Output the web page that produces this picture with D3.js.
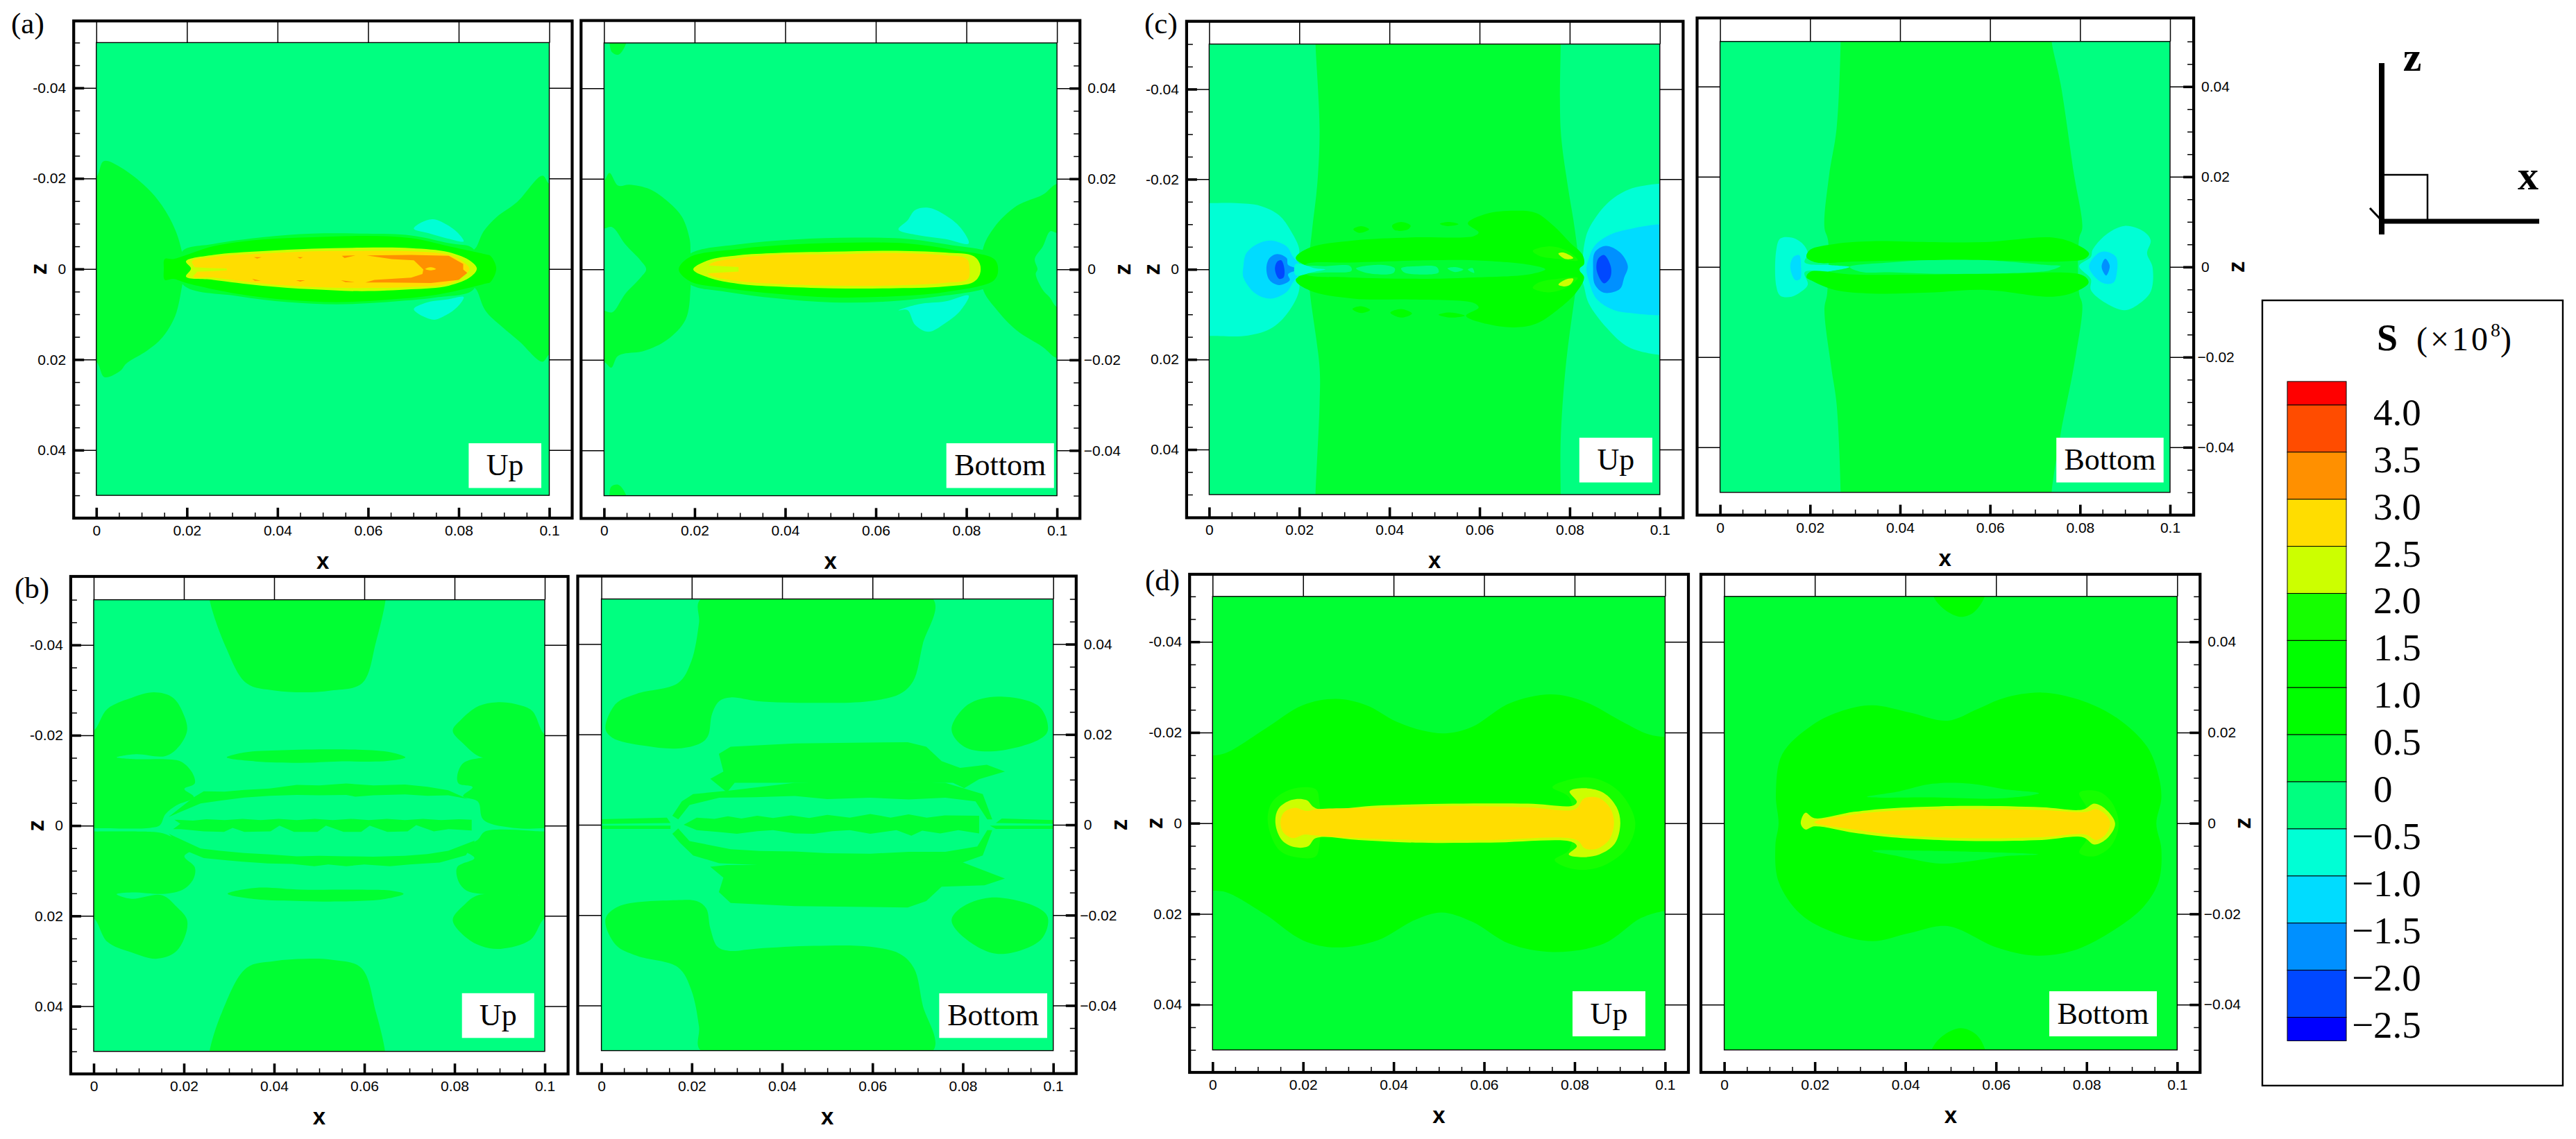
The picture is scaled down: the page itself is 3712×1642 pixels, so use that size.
<!DOCTYPE html>
<html>
<head>
<meta charset="utf-8">
<script src="https://cdn.jsdelivr.net/npm/d3@7/dist/d3.min.js"></script>
<style>
  body { margin: 0; background: #fff; }
  svg { display: block; }
  .tick text { font-family: "Liberation Sans", Arial, sans-serif; font-size: 21px; fill: #000; }
  .serif { font-family: "Liberation Serif", "Times New Roman", serif; fill: #000; }
  .axisname { font-family: "Liberation Sans", Arial, sans-serif; font-size: 33px; font-weight: bold; fill: #000; }
</style>
</head>
<body>
<div id="chart"></div>
<script>
// ---------------------------------------------------------
// 1. DATA
// ---------------------------------------------------------

// colour bands, S in units of 1e8
const sLevels = [-2.5, -2, -1.5, -1, -0.5, 0, 0.5, 1, 1.5, 2, 2.5, 3, 3.5, 4];
const bandColors = ["#0000ff", "#0048ff", "#0090ff", "#00dcff", "#00ffd5", "#00ff80", "#00ff33",
    "#00ff00", "#00ff00", "#15ff00", "#ccff00", "#ffdd00", "#ff9000", "#ff4c00", "#ff0000"];
const legendLabels = ["4.0", "3.5", "3.0", "2.5", "2.0", "1.5", "1.0", "0.5", "0", "\u22120.5", "\u22121.0", "\u22121.5", "\u22122.0", "\u22122.5"];
const legendValues = [4, 3.5, 3, 2.5, 2, 1.5, 1, 0.5, 0, -0.5, -1, -1.5, -2, -2.5];
const legendEnds = [4.25, -2.75];

// axes, in metres
const xMajor = [0, 0.02, 0.04, 0.06, 0.08, 0.1];
const xMinor = [0.005, 0.01, 0.015, 0.025, 0.03, 0.035, 0.045, 0.05, 0.055, 0.065, 0.07, 0.075, 0.085, 0.09, 0.095];
const xLabels = ["0", "0.02", "0.04", "0.06", "0.08", "0.1"];
const zMajor = [-0.04, -0.02, 0, 0.02, 0.04];
const zMinor = [-0.05, -0.045, -0.035, -0.03, -0.025, -0.015, -0.01, -0.005, 0.005, 0.01, 0.015, 0.025, 0.03, 0.035, 0.045, 0.05];
const zLabelsUp = ["-0.04", "-0.02", "0", "0.02", "0.04"];
const zLabelsBottom = ["\u22120.04", "\u22120.02", "0", "0.02", "0.04"];

// contour regions: [S inside, [[x mm, z mm], ...], sharp corners?]  painted in order
const regionsAUp = [
  [0.25, [[0,-20.4],[1.6,-23.8],[5.3,-22.5],[11.1,-18],[14.5,-14],[17.4,-8.7],[18.9,-3.8],[19.5,0],[18.9,3.9],[17.4,10.4],[14.5,15.2],[11.1,18.1],[6.6,20.9],[5.3,22.5],[1.8,23.9],[0,20.5],[-3,20],[-3,-20]]],
  [0.25, [[103,-18],[100,-18.8],[98.5,-20.6],[92.9,-14.8],[88.4,-11.5],[85.5,-8.3],[84,-5],[83,-3.5],[83,3.5],[84,4.7],[85.9,9.2],[89.6,12.8],[93.4,16],[98.5,20.5],[100,18.9],[103,18]]],
  [-0.75, [[70.1,-8.9],[71.8,-10.3],[74.3,-11],[77.2,-9.9],[79.7,-8.1],[81.1,-6.1],[77.6,-6.7],[73.4,-7.9]]],
  [-0.75, [[70.1,8.9],[72.6,7.5],[77.6,6.7],[81.1,6.2],[79.7,8.4],[77.2,10.2],[74.3,11.2]]],
  [0.25, [[18.9,-3.8],[25.8,-5.5],[36.7,-7],[47.7,-7.8],[59.7,-7.8],[69.5,-7.4],[77.8,-5.7],[83.2,-4.5],[84,0],[83.2,4.6],[75,6.3],[64.1,7.3],[53.1,7.8],[42.2,7.3],[31.3,6],[19.1,3.4]]],
  [0.75, [[15.1,-2.2],[17,-2.2],[25.8,-5],[36.7,-6.5],[47.7,-7],[59.7,-7.3],[69.5,-6.8],[77.8,-5],[86,-3.2],[87,-2.9],[88.3,-0.1],[87,2.9],[86,3.2],[75,5.7],[64,6.8],[53,7.3],[42.2,6.8],[31.3,5.5],[20.3,3.2],[17,2.2],[15.1,2.4],[14.9,0]]],
  [2.25, [[19.8,-1.7],[25.8,-3.1],[36.7,-3.95],[47.7,-4.5],[58.6,-4.7],[69.5,-4.6],[77.8,-3.7],[82.7,-1.7],[84,-0.1],[82.7,1.7],[77.8,3.7],[69.5,4.5],[58.6,4.9],[47.7,4.5],[36.7,3.7],[25.8,2.4],[19.8,1.7],[20.9,-0.1]]],
  [2.75, [[21.1,-1.7],[25.8,-2.7],[36.7,-3.4],[47.7,-3.9],[58.6,-4],[69.5,-3.9],[77.8,-3.1],[81.6,-1.1],[82.4,0],[81.6,1.1],[77.8,3.2],[69.5,4],[58.6,4.2],[47.7,4],[36.7,3.2],[25.8,1.9],[21.4,1.7],[22.2,0.6],[21.7,-0.4]]],
  [2.25, [[21.7,-0.4],[25.2,-0.2],[28.8,-0.1],[28.8,0.3],[25.2,0.5],[21.7,0.6]], true],
  [3.25, [[59.7,-3],[69.5,-3.1],[77.8,-2.9],[81,-1.1],[81,0.1],[81.9,0.9],[80,2.4],[73.9,3.1],[64.1,3],[59.4,3],[61.4,2.4],[69.5,1.9],[72,1.1],[72.2,0.1],[70.1,-1.9],[65.2,-2.2]], true],
  [2.75, [[72.6,0],[73.8,-0.4],[75,0],[73.8,0.3]]],
  [3.25, [[54.2,-2.9],[57.2,-3],[54.8,-2.4]], true],
  [3.25, [[34.8,-2.6],[36.5,-2.6],[35.5,-2.3]], true],
  [3.25, [[44.4,-2.6],[45.6,-2.6],[45,-2.3]], true],
  [3.25, [[34.4,2.2],[36.3,2.6],[35,2.6]], true],
  [3.25, [[44.1,2.5],[46.1,2.5],[45,2.8]], true],
  [3.25, [[54,2.5],[57,2.9],[55,2.9]], true]
];

const regionsABottom = [
  [0.25, [[-3,19.7],[0,19.7],[1.2,21.3],[3.1,18.5],[5.6,18.7],[10.1,17.7],[14.3,14.8],[17.2,11.6],[18.9,6.7],[19.1,3.5],[19.1,-4.2],[18,-11.1],[13.9,-15.6],[8.9,-18],[3.1,-19.1],[1.6,-21.7],[0,-20.4],[-3,-20],[-3,-9.1],[0,-9.1],[1.8,-9.5],[4.7,-5.4],[8.1,-1.8],[9.3,0],[8.1,1.9],[4.7,5.5],[1.8,9.3],[0,9],[-3,9]]],
  [0.25, [[103,18.5],[100,18.9],[96.9,16.5],[91.1,14],[86.1,9.2],[83.6,4.3],[83.6,-4.2],[86.5,-8.7],[91.1,-13.5],[96.9,-17.2],[100,-19.6],[103,-19],[103,-8],[100,-8.3],[98.4,-6.2],[96.9,-4.6],[95.3,-1],[95.7,0],[95.1,2.3],[96.9,5.1],[98.5,8.4],[100,8],[103,8]]],
  [0.25, [[1.2,52],[4.9,52],[4.9,50],[3.2,47.4],[1.8,47.9],[1.2,50]]],
  [0.25, [[1.2,-52],[4.9,-52],[4.9,-50],[3.2,-47.6],[1.6,-48],[1.2,-50]]],
  [-0.75, [[65,8.8],[67,10.8],[68.7,13.1],[71.6,13.6],[75.3,12],[78.7,9.2],[80.5,5.7],[75.3,6.7],[69.5,7.5]]],
  [-0.75, [[65,-9.1],[67,-9],[68.7,-12.3],[71.6,-13.8],[75.3,-11.9],[78.7,-9.1],[80.5,-5.8],[75.3,-7.1],[69.5,-7.7]]],
  [0.25, [[19.1,3.5],[29.7,5.5],[42.1,6.6],[55.4,7],[67,6.7],[77,5.3],[83.6,4.3],[86.5,3.1],[87.2,0],[86.5,-3],[83.6,-4.4],[75.3,-5.8],[62.9,-7.1],[50.4,-7.3],[38,-6.4],[27.2,-5],[19.1,-3.4],[16.4,0]]],
  [0.75, [[18.9,2.7],[29.7,4.5],[42.1,5.5],[55.4,5.9],[67,5.7],[77,4.3],[86.1,2.3],[87,0],[86.1,-2.4],[75.3,-5],[62.9,-6],[50.4,-6.2],[38,-5.4],[27.2,-4.2],[18.9,-2.6],[16.5,0]]],
  [2.25, [[19.7,0],[23,2],[29.7,3.1],[38,3.6],[50.4,3.9],[62.9,4.1],[75.3,3.7],[81.6,2.9],[83,1.1],[83,-1],[81.6,-2.8],[75.3,-3.8],[62.9,-4.2],[50.4,-4.2],[38,-3.8],[29.7,-3.2],[23,-1.8]]],
  [2.75, [[23.2,1],[29.7,2.5],[38,3.2],[50.4,3.3],[62.9,3.6],[75.3,3.1],[80.1,2.3],[80.7,0],[80.3,-2.2],[75.3,-3],[62.9,-3.6],[50.4,-3.6],[38,-3.2],[29.7,-2.6],[23,-1]]],
  [2.25, [[22.8,0.9],[29.7,0.5],[29.7,-0.5],[22.8,-0.9]], true]
];

const regionsBUp = [
  [0.25, [[25.7,-52],[25.7,-50],[29.3,-39.5],[33.9,-31.5],[40.1,-29.9],[46.8,-29.5],[52.6,-29.9],[59.5,-31.5],[62.6,-40.7],[64.7,-50],[64.7,-52]]],
  [0.25, [[25.7,52],[25.7,50],[28.4,41.4],[33.9,31.5],[40.1,30],[46.8,29.5],[52.6,29.7],[59.3,31.5],[62.6,41.4],[64.6,50],[64.6,52]]],
  [0.25, [[-3,-20],[0,-21],[3,-25.8],[8.4,-28.3],[13.4,-29.5],[17.6,-28.3],[20.1,-24.2],[20.7,-21],[18.8,-17.4],[15.9,-15.4],[9.3,-15.8],[5.1,-15.1],[9.3,-14.7],[15.9,-14.7],[19.3,-14.2],[21.8,-11.8],[22.4,-9.3],[20.1,-8.1],[22.2,-6.3],[18.4,-4.5],[15.9,-2.5],[14.7,-0.1],[12.6,0.5],[0,0.6],[-3,0.6]]],
  [0.25, [[-3,1.3],[0,1.3],[14.3,1.5],[15.9,1.9],[21.8,5.2],[20.1,6.8],[22.4,9.2],[22.2,11.6],[20.1,14],[15.9,15.1],[8.4,14.8],[5.1,15.2],[8.4,16.2],[15.1,15.4],[18.4,18],[20.7,20.9],[20.1,24.9],[18,28.1],[13.8,29.5],[8.4,28.1],[3,25.7],[0,20.5],[-3,20]]],
  [0.25, [[103,-20],[100,-20.2],[97.2,-25.4],[93.5,-26.9],[89.3,-27.3],[85.2,-26.4],[81.4,-23.4],[79.6,-21],[81.9,-18.2],[86,-15.1],[94.3,-15],[86,-15],[81.9,-13.8],[80.6,-11],[80.9,-9.3],[84,-8.5],[81.9,-6.5],[85.2,-5.3],[86.4,-1.3],[93.9,0.6],[100,0.6],[103,0.6]]],
  [0.25, [[103,1.3],[100,1.3],[86.8,1.3],[85.2,3.1],[81.9,5.2],[84.4,7.2],[80.6,9.2],[80.9,12.4],[82.7,14.4],[86.8,15.2],[94.3,15.4],[85.2,15.4],[82.1,17.6],[79.6,20.9],[82.7,24.9],[86,26.7],[90.2,27.3],[96.8,25.3],[100,20.5],[103,20]]],
  [0.25, [[29.5,-15.1],[33.4,-16.2],[41.8,-16.7],[58.5,-16.8],[66,-16.2],[69.1,-15.1],[65.1,-14.3],[54.3,-14.2],[46,-13.9],[35.9,-14.2]]],
  [0.25, [[29.7,15.1],[35.9,13.8],[46,14.2],[58.5,14.2],[66,14.4],[68.7,15.1],[64.3,16.3],[54.3,16.8],[46,16.7],[35.9,16.3]]],
  [0.25, [[22.2,-6.3],[24.4,-7.6],[29,-7.5],[33.4,-7.9],[39,-8.2],[45,-9],[50,-8.9],[56,-9.3],[62,-8.9],[69,-9.1],[74,-8.6],[78.6,-7.8],[82.9,-5.9],[78.6,-6.7],[74,-6.6],[69,-6.9],[62,-6.7],[58,-6.4],[56,-6.8],[50,-6.7],[45,-6.8],[39,-6.6],[33.4,-6.2],[28,-5.5],[23.7,-4.9],[16.6,-1.9]], true],
  [0.25, [[16.6,1.8],[23.7,5.1],[28,5.6],[33.4,6.1],[39,6.4],[45,6.8],[50,6.7],[56,6.8],[62,6.9],[69,6.7],[74,6.3],[78.6,5.6],[84.5,3.3],[82.5,6.6],[76.7,8.2],[70,8.6],[65.7,9],[60,8.6],[56,9],[52,8.6],[48.9,9],[44,8.5],[38.6,8.4],[33,8],[29.5,7.7],[24.4,7.2],[20.5,5.6]], true],
  [0.25, [[17.9,-1.3],[22,-1.1],[25,-1.4],[29,-1.2],[33,-1.5],[37,-1.2],[41,-1.5],[45,-1.2],[49,-1.5],[53,-1.2],[57,-1.5],[61,-1.2],[65,-1.5],[69,-1.2],[73,-1.5],[77,-1.2],[81,-1.4],[83.8,-1.3],[83.8,1.1],[78.7,0.8],[75.4,1.3],[71.5,-0.1],[69.6,1.3],[65.1,1.4],[61.2,0],[59.3,1.4],[55.4,1.4],[51.5,0],[49.6,1.4],[44.4,1.4],[41.2,0],[39.2,1.3],[33.4,1.4],[30.8,0.5],[28.9,1.4],[24.4,1.3],[19.2,0.8],[17.6,0.8],[19.2,-0.4]], true]
];

const regionsBBottom = [
  [0.25, [[22,52],[22,50],[73.4,50],[73.4,52]]],
  [0.25, [[22,50],[73.4,50],[71.1,39.9],[69,31.8],[66.1,29],[59.5,27.4],[47,27],[34.5,27.4],[28.6,28.2],[26.1,27.4],[24.5,24.6],[23.6,19.7],[22,18.1],[17,16.9],[9.5,17.5],[2.4,19.3],[0.9,21.3],[3.2,26.8],[7.8,29],[17,31.4],[19.9,36.2],[21.6,44.7]]],
  [0.25, [[22,-50],[73.4,-50],[71.1,-39.9],[69.2,-31.8],[66.1,-28.6],[59.5,-27],[47,-26.8],[34.5,-27.4],[28.2,-27.9],[25.7,-27],[24.1,-22.9],[23.2,-18.5],[21.1,-16.9],[16.6,-16.7],[3.7,-18.1],[0.9,-20.9],[3.2,-26.6],[7.8,-29],[17,-31.6],[19.9,-36.6],[21.6,-44.7]]],
  [0.25, [[22,-52],[22,-50],[73.4,-50],[73.4,-52]]],
  [0.25, [[77.5,21.1],[81.1,26.6],[87.8,28.4],[96.9,26.2],[98.8,20.9],[96.9,18.9],[86.9,16.3],[80.3,17.3]]],
  [0.25, [[77.5,-21.2],[80.3,-25],[87.8,-28.6],[97.3,-25.4],[98.8,-20.5],[96.1,-18.1],[86.1,-16.1],[79.4,-18.5]]],
  [0.25, [[26,15.7],[28.6,17.3],[42.8,18],[67.8,18.3],[71.9,17.3],[75.3,14.1],[79.4,12.6],[85.3,13.3],[89.3,11.8],[83.6,10.1],[80.3,8.1],[77.8,9.3],[60,9.5],[42.8,9.3],[29.5,9.3],[27.8,7.2],[24.1,10.2],[27,11.8]], true],
  [0.25, [[15.7,2],[17.8,5.2],[20.3,6.8],[28.6,7.6],[42.8,9.3],[59.5,9.7],[76.1,9.3],[84.4,6.8],[86.5,1.2],[85.4,1.2],[82.8,5.2],[76.1,6],[68,5.6],[59.5,6],[50,5.7],[42.8,6.4],[34,6.1],[26.1,6],[19.5,4.4],[17,1.2]], true],
  [0.25, [[15.7,-2],[17,-0.8],[19.5,-3.6],[28.6,-5.4],[35,-5.8],[42.8,-5.9],[50,-6.3],[59.5,-6.4],[68,-6],[76.1,-6],[83.2,-4.8],[85.4,-1.2],[86.5,-1.2],[84.4,-6.8],[76.1,-9.7],[59.5,-10.1],[42.8,-9.3],[26.1,-8.5],[20.3,-6.8],[17.4,-4]], true],
  [0.25, [[26,-14.9],[27,-11.7],[24.1,-9.3],[27.8,-8.9],[42.8,-8.9],[79.4,-8.1],[89.3,-11.9],[84.8,-13.4],[75.3,-13.7],[71.9,-16.9],[67.8,-18.3],[42.8,-18],[28.6,-17.3]], true],
  [0.25, [[18.2,0],[21.1,1.6],[25,1.3],[28,1.9],[31,1.4],[34.5,2],[38,1.5],[42,2.1],[46,1.5],[50,2.2],[55,1.6],[59.5,2.4],[64,1.6],[68,2.3],[72,1.6],[76,2.1],[83.6,2],[83.6,-1.9],[79,-1.2],[75,-1.9],[71,-1.3],[68.6,-2.4],[65.3,-1.2],[59.5,-2],[55,-1.2],[51.1,-1.4],[47,-2],[42.8,-1.9],[38,-1.2],[34.5,-1.4],[30,-2],[26.1,-1.6],[21.1,-1.2]], true],
  [0.25, [[-1,1.2],[14.5,1.6],[15.3,0.4],[-1,0.2]], true],
  [0.25, [[-1,-0.2],[15.3,-0.2],[15.3,-0.9],[-1,-0.9]], true],
  [0.25, [[87.3,0.4],[88.6,1.4],[101,1],[101,0.2]], true],
  [0.25, [[86,-0.2],[101,-0.2],[101,-0.9],[87.3,-0.9]], true]
];

const regionsCUp = [
  [0.25, [[23.6,-52],[23.6,-50],[24.5,-31],[24,-19],[22.8,-8.4],[22,0],[22.4,5.5],[24.5,21.8],[24.5,29.9],[23.6,50],[23.6,52],[78,52],[78,50],[78,38],[79.1,21.8],[81.2,5.5],[82,0],[81.2,-8.4],[79.5,-19],[78,-31],[78,-50],[78,-52]]],
  [-0.75, [[-3,-14.7],[0,-14.7],[5.8,-14.7],[11.3,-14.1],[15.5,-12],[18.2,-8.4],[20,-4.3],[19.3,-1.5],[20,4.4],[17.9,9],[14.1,12.9],[8.6,14.7],[0,14.8],[-3,14.8]]],
  [-0.75, [[103,-19],[100,-19],[93.1,-17.7],[88.3,-14.6],[84.2,-8.9],[83.2,-5.3],[82.8,-1.7],[82.3,0],[83.2,3.9],[84.2,7.5],[88.3,13.1],[93.1,17.3],[100,19],[103,19]]],
  [-1.25, [[103,-10],[100,-10],[94.5,-9.2],[89,-7.7],[85.6,-5.3],[84.2,-2.3],[83.7,0],[84.2,2.4],[85.9,6.5],[89.7,9],[94.5,9.8],[100,10.2],[103,10.2]]],
  [-1.25, [[7.6,-0.7],[8.2,-3.5],[10.6,-5.6],[13.7,-6.4],[17.2,-5.1],[18.6,-2.8],[20.6,-0.2],[18.6,2.9],[17.2,5],[13.7,6.5],[10.3,5.4],[7.6,1.8]]],
  [-1.75, [[12.7,-0.2],[13.4,-2.5],[15.1,-3.4],[17.2,-2.5],[17.5,-1],[19.6,0],[17.5,1.1],[17.9,2.4],[15.5,3.5],[13.4,2.4]]],
  [-2.25, [[14.6,0],[15.1,-1.7],[16,-2],[16.7,0],[16.5,1.8],[15.5,2.1]]],
  [-1.75, [[85.2,-0.2],[85.6,-3.8],[88,-5.2],[91.1,-3.8],[92.9,-0.7],[92.1,1.8],[91.1,4.4],[87.6,5.2],[85.6,3.4]]],
  [-2.25, [[86,0.3],[86.3,-2.3],[87.6,-3.2],[89.1,-0.7],[89,1.8],[87.6,3.1]]],
  [0.75, [[19.2,-2.5],[22.3,-4.8],[32,-6.4],[45,-7.1],[58.8,-7.4],[59.8,-8.2],[57.4,-10.2],[61.5,-12.3],[67.7,-13],[72.5,-12.5],[76.6,-9.5],[80.1,-5.9],[82.8,-3.3],[83.2,-1.2],[82.1,0],[83.2,1.8],[81.4,5.2],[77.3,9],[72.5,12.1],[67.7,12.9],[61.5,12.1],[57,10.3],[59.8,8.5],[58.8,7.5],[45,6.7],[32,6.5],[22.3,4.7],[19.2,2.4],[22,0]]],
  [0.25, [[21.6,-1.2],[31.3,-1.5],[48.5,-2],[58.8,-2],[71.1,-1],[74.6,0],[71.1,1.1],[58.8,1.8],[48.5,2.1],[31.3,1.8],[21.6,1.2],[20.5,0]]],
  [-0.25, [[21,-0.5],[25.8,-0.7],[31.3,-0.7],[31.6,0.3],[25.8,0.7],[21,0.6]]],
  [-0.75, [[19.2,-1.2],[23.7,-0.2],[25.8,0],[23,0.6],[19.2,1.3]]],
  [-0.25, [[32.6,-0.2],[38.1,-1],[41.2,-0.2],[40.9,0.8],[35.4,0.9]]],
  [-0.25, [[42.6,-0.2],[46.4,-0.7],[50.5,-0.5],[50.9,0.7],[45.7,1.1],[43.3,0.7]]],
  [-0.25, [[52.9,-0.2],[54.6,-0.5],[56.4,0.05],[54.6,0.6]]],
  [-0.25, [[57.4,0.05],[58.4,-0.3],[58.8,0.8]]],
  [1.75, [[71.8,-4.1],[75.3,-5.1],[79.4,-4.1],[81.8,-2],[77.3,-2.3],[73.2,-3]]],
  [1.75, [[71.8,4.1],[73.2,2.9],[77.3,2.1],[81.8,1.9],[79.4,4],[75.3,5.1]]],
  [2.25, [[77.5,-3.5],[78.7,-3.7],[80.8,-2.5],[79,-2.3]]],
  [2.25, [[77.5,3.4],[79,2.3],[80.8,2.1],[80.1,3.4],[78.7,3.8]]],
  [0.75, [[32,-8.9],[33.7,-9.6],[35.5,-8.9],[33.3,-8.1]]],
  [0.75, [[40.6,-9.7],[42.6,-10.5],[44.7,-9.7],[44,-8.8],[41.2,-8.7]]],
  [0.75, [[51.2,-10.1],[53.3,-10.5],[55.3,-10],[52.9,-9.6]]],
  [0.75, [[31.8,8.8],[33.7,8.2],[35.7,9],[33.7,9.7]]],
  [0.75, [[40.2,9.6],[42.6,8.8],[45,9.8],[42.6,10.7]]],
  [0.75, [[50.9,10.1],[53.3,9.6],[56.7,10.3],[53.3,10.7]]]
];

const regionsCBottom = [
  [0.25, [[26.8,52],[26.8,50],[25.9,30.7],[24.2,20.1],[23.2,8.7],[24,5.9],[23.8,-5.9],[23.2,-9.2],[24.7,-22.2],[25.9,-30.4],[26.8,-50],[26.8,-52],[73.7,-52],[73.7,-50],[75.7,-36.9],[78.6,-22.2],[80.5,-8.4],[79.8,-5.9],[79.8,6.3],[80.5,8.7],[78.6,20.9],[75.7,40.5],[73.7,50],[73.7,52]]],
  [-0.75, [[12.5,3.8],[13.4,6.3],[15.9,6.5],[18.4,5.1],[19.5,3],[18.8,1],[24.7,0.4],[28.8,0],[24.7,-0.9],[18.8,-1.2],[19.5,-3.9],[18,-5.5],[15.9,-6.6],[13.4,-6.4],[12.5,-4.3]]],
  [-0.75, [[79.8,0.2],[82.4,2.2],[82.8,3.8],[85.7,7.1],[89.9,9.1],[94.1,7.9],[95.7,5.9],[94.9,3],[96.1,0],[95.7,-5.5],[92.8,-8.4],[89.9,-9.6],[85.7,-8],[82.4,-5.1],[82.4,-2.7]]],
  [0.75, [[19.2,2.2],[20,3.8],[25.5,5.1],[33.9,5.7],[46.4,5.5],[58.9,5.5],[74,6.5],[79,5.1],[82,3],[81.1,1.8],[75.7,1.2],[63.1,1.4],[46.4,1.5],[29.7,1.2],[21.3,1]]],
  [0.75, [[19.2,-2.3],[20,-1.1],[29.7,-1.7],[46.4,-1.7],[63.1,-1.5],[80.7,-1.9],[81.9,-3.5],[79,-5.5],[74,-6.6],[58.9,-5.1],[46.4,-5.7],[33.9,-5.9],[25.5,-5.1],[20.5,-3.1]]],
  [-0.25, [[28.8,0],[38,1],[46.4,1.5],[58.9,1.5],[70.7,0.6],[73.2,0.4],[75.7,0.2],[73.2,-0.8],[70.7,-1.1],[58.9,-1.5],[46.4,-1.5],[38,-1.2],[31.4,-1.1]]],
  [-1.25, [[15.6,0],[16.3,2.2],[17.6,2.6],[18,0],[17.8,-2.7],[16.7,-2.9]]],
  [-1.25, [[82,0],[84,3],[85.7,3.4],[88,2.2],[88.2,-1.1],[87.4,-3.5],[84.9,-3.5]]],
  [-1.75, [[84.8,0],[85.6,1.8],[86.6,0.2],[85.8,-1.9]]]
];

const regionsDUp = [
  [0.75, [[-3,-15],[0,-14.9],[3.2,-15.6],[11.6,-20.8],[19.9,-26],[27.3,-27.4],[34,-26],[40.6,-22.4],[46.5,-20.4],[51.5,-19.8],[57.3,-21.2],[65.6,-26.4],[74.7,-28.4],[82.2,-26.8],[90.5,-22.4],[96.3,-19.6],[100,-19],[103,-19],[103,19],[100,19.3],[94.7,20.9],[86.4,26.6],[75.1,28.4],[65.6,26.6],[57.3,21.7],[50.6,19.7],[44.8,21.3],[36.5,25.8],[27.3,27.4],[19.9,25.8],[11.6,20.1],[3.2,15.3],[0,14.9],[-3,15]]],
  [1.75, [[12.2,-0.3],[13.2,-4.7],[17.4,-7.5],[22.8,-7.5],[23.6,-4.7],[23.6,4.9],[22.8,7.3],[19.9,7.7],[14.9,6.1]]],
  [1.75, [[75.1,-7.9],[78.1,-9.4],[83.9,-10],[89.7,-7.1],[93.4,-0.3],[91.4,5.7],[85.5,9.7],[79.7,10.1],[75.6,8.1],[78.9,5.7],[78.9,-5.5]]],
  [2.25, [[13.9,0.1],[14.5,-3.1],[17.4,-5.1],[20.7,-5.1],[22.8,-3.3],[36.5,-3.9],[53.1,-4.3],[69.7,-4.3],[79.7,-3.9],[80.5,-4.7],[78.9,-7],[82.2,-7.7],[86.4,-6.7],[89.3,-3.5],[90.1,0.1],[88.9,4.5],[85.5,6.9],[81.4,7.5],[78.7,6.9],[80.5,5.1],[79.3,4.1],[61.4,4.3],[44.8,4.3],[32.3,3.7],[22.8,3.3],[21.1,5.1],[18.2,5.3],[15.3,3.7]]],
  [2.75, [[15,0.1],[15.7,-2.3],[18.2,-3.4],[20.7,-2.7],[23.2,-3.1],[36.5,-3.4],[53.1,-3.8],[69.7,-3.5],[80.1,-3.1],[82.2,-5.5],[85.5,-5.5],[88,-3.1],[88.7,0.1],[87.6,3.7],[84.7,5.7],[82.2,5.5],[80.5,3.7],[61.4,3.7],[44.8,3.7],[32.3,3.3],[22.4,2.7],[20.3,2.5],[17.8,3.3],[15.7,2.1]]]
];

const regionsDBottom = [
  [0.75, [[11.4,6.3],[12.8,15.2],[19.4,21.6],[26.1,24.8],[32.7,26],[41,24.4],[49.3,22.6],[56,25.2],[61.8,27.6],[70.1,28.8],[78.4,27.2],[86.7,23.2],[93.4,16.8],[95.9,10.4],[96.5,5.5],[95.4,-0.1],[96.5,-5.7],[95.9,-12.9],[92.5,-18.5],[85,-24.2],[76.7,-28.2],[68.4,-29.2],[60.1,-27.4],[49.3,-22.7],[41,-24.2],[32.7,-26],[24.4,-24.2],[16.9,-20.1],[12,-12.9],[11.3,-4.9],[12,-0.1]]],
  [0.75, [[46.2,52],[46.2,50],[48.9,46.9],[52.2,45.5],[55.1,46.5],[57.5,50],[57.5,52]]],
  [0.75, [[45.8,-52],[45.8,-50],[48.1,-47],[52.2,-45.2],[55.6,-46.6],[57.6,-50],[57.6,-52]]],
  [0.25, [[31.5,5.8],[38.5,7],[46,8.7],[54.3,8.7],[61.8,7.5],[69.5,6.6],[61.8,5.5],[45.2,5.7]]],
  [0.25, [[32.7,-6.1],[45.2,-6.1],[69.3,-6.9],[61.8,-7.3],[53.5,-8.5],[47.7,-8.9],[38.5,-7.3]]],
  [1.75, [[78.4,6.7],[82.6,7],[85.5,4.7],[87.1,-0.1],[85.5,-4.9],[81.7,-7.3],[78.4,-6.5],[80.1,-3.3],[80.1,3.1]]],
  [2.25, [[16.9,-0.1],[17.9,2.3],[19.9,1.1],[28.6,2.5],[36.9,3.3],[53.5,3.8],[70.1,3.5],[79.2,3],[81.7,4.3],[84.2,3.1],[86.3,-0.1],[84.6,-3.3],[81.7,-4.7],[79.2,-3.1],[70.1,-3.7],[53.5,-3.9],[36.9,-3.1],[28.6,-2.1],[19.9,-0.7],[17.9,-1.4]]],
  [2.75, [[19.9,0.2],[28.6,1.9],[36.9,2.7],[53.5,3.1],[70.1,2.9],[80.1,2.5],[82.1,3.1],[84.6,1.5],[85.2,-0.1],[84.2,-2.5],[82.1,-3.7],[79.7,-2.5],[70.1,-3.1],[53.5,-3.3],[36.9,-2.5],[28.6,-1.4]]]
];

// ---------------------------------------------------------
// 2. LAYOUT
// ---------------------------------------------------------
const width = 3712;
const height = 1642;

const panels = [
  { tag: "(a)", tagAt: [16, 48], side: "Up", frame: [106.2, 30.2, 824.5, 746.9], plot: [138.8, 61.4, 791.5, 714.1], box: [675.4, 639, 780, 703.5], base: -0.25, regions: regionsAUp },
  { side: "Bottom", frame: [837.3, 29.6, 1556.2, 747.4], plot: [870.4, 61.9, 1523.1, 714.6], box: [1363.7, 639, 1518.8, 703.5], base: -0.25, regions: regionsABottom },
  { tag: "(c)", tagAt: [1649, 48], side: "Up", frame: [1709.9, 30.7, 2425.4, 746.4], plot: [1742.4, 63.5, 2391.8, 713], box: [2275.8, 631, 2381, 695.5], base: -0.25, regions: regionsCUp },
  { side: "Bottom", frame: [2445.5, 25.9, 3161.1, 742.6], plot: [2478.6, 59.8, 3127, 709.8], box: [2963.2, 631, 3117.7, 695.5], base: -0.25, regions: regionsCBottom },
  { tag: "(b)", tagAt: [21, 862], side: "Up", frame: [101.9, 831, 818.6, 1548.2], plot: [135, 864.6, 785, 1515.7], box: [665.7, 1431.8, 769.8, 1496.3], base: -0.25, regions: regionsBUp },
  { side: "Bottom", frame: [832.5, 830.5, 1550.8, 1547.7], plot: [866.6, 863.5, 1517.7, 1514.6], box: [1353.4, 1432, 1509, 1496.3], base: -0.25, regions: regionsBBottom },
  { tag: "(d)", tagAt: [1650, 851], side: "Up", frame: [1714.2, 827.9, 2433, 1546], plot: [1747.3, 859.8, 2399.4, 1513.6], box: [2266, 1429, 2371, 1494], base: 0.25, regions: regionsDUp },
  { side: "Bottom", frame: [2451, 827.9, 3170.3, 1546], plot: [2484.6, 859.8, 3137.3, 1513.6], box: [2953, 1429, 3108, 1494], base: 0.25, regions: regionsDBottom }
];

const sColor = d3.scaleThreshold().domain(sLevels).range(bandColors);

const svg = d3.select("#chart").append("svg")
    .attr("width", width)
    .attr("height", height);

// ---------------------------------------------------------
// 3. PANELS
// ---------------------------------------------------------
panels.forEach((p, i) => drawPanel(p, i));
drawLegend();
drawGizmo();

function thin(sel) {
    sel.select(".domain").remove();
    sel.selectAll(".tick line").attr("stroke", "#000").attr("stroke-width", 1.5);
    return sel;
}
function thick(sel) {
    sel.select(".domain").remove();
    sel.selectAll(".tick line").attr("stroke", "#000").attr("stroke-width", 3.6);
    return sel;
}

function drawPanel(p, i) {
    const [fx0, fy0, fx1, fy1] = p.frame;
    const [px0, py0, px1, py1] = p.plot;
    const isUp = p.side === "Up";

    const x = d3.scaleLinear().domain([0, 0.1]).range([px0, px1]);
    const z = d3.scaleLinear().domain(isUp ? [-0.05, 0.05] : [0.05, -0.05]).range([py0, py1]);

    const g = svg.append("g");
    const clipId = "clip" + i;
    g.append("clipPath").attr("id", clipId).append("rect")
        .attr("x", px0).attr("y", py0).attr("width", px1 - px0).attr("height", py1 - py0);

    // filled contours
    const field = g.append("g").attr("clip-path", `url(#${clipId})`);
    field.append("rect")
        .attr("x", px0).attr("y", py0).attr("width", px1 - px0).attr("height", py1 - py0)
        .attr("fill", sColor(p.base));

    const smooth = d3.line().x(d => x(d[0] / 1000)).y(d => z(d[1] / 1000)).curve(d3.curveCatmullRomClosed.alpha(0.5));
    const sharp = d3.line().x(d => x(d[0] / 1000)).y(d => z(d[1] / 1000)).curve(d3.curveLinearClosed);
    field.selectAll("path").data(p.regions).join("path")
        .attr("d", d => (d[2] ? sharp : smooth)(d[1]))
        .attr("fill", d => sColor(d[0]));

    // thin long ticks: top, and the side without labels
    const marginTop = py0 - fy0;
    g.append("g").attr("transform", `translate(0,${fy0})`)
        .call(d3.axisTop(x).tickValues(xMajor).tickSize(-marginTop).tickFormat(""))
        .call(thin);

    const labelSideX = isUp ? fx0 : fx1;
    const plainSideX = isUp ? fx1 : fx0;
    const plainAxis = isUp ? d3.axisRight(z) : d3.axisLeft(z);
    g.append("g").attr("transform", `translate(${plainSideX},0)`)
        .call(plainAxis.tickValues(zMajor).tickSize(-(isUp ? fx1 - px1 : px0 - fx0)).tickFormat(""))
        .call(thin);

    // labelled z side: thin line to the plot, thick stub, minor ticks
    const labelAxis = () => isUp ? d3.axisLeft(z) : d3.axisRight(z);
    const gap = isUp ? px0 - fx0 : fx1 - px1;
    g.append("g").attr("transform", `translate(${labelSideX},0)`)
        .call(labelAxis().tickValues(zMajor).tickSize(-gap).tickFormat(""))
        .call(thin);
    g.append("g").attr("transform", `translate(${labelSideX},0)`)
        .call(labelAxis().tickValues(zMinor).tickSize(-9).tickFormat(""))
        .call(thin);
    // zMajor runs -0.04..0.04 on every panel, so labels go with the value
    const zLabels = isUp ? zLabelsUp : zLabelsBottom;
    const zAxis = g.append("g").attr("transform", `translate(${labelSideX},0)`)
        .call(labelAxis().tickValues(zMajor).tickSize(-15).tickPadding(11).tickFormat((d, j) => zLabels[j]))
        .call(thick);
    if (!isUp) zAxis.selectAll(".tick text").filter(d => d < 0).attr("x", 5.5);

    // bottom axis
    g.append("g").attr("transform", `translate(0,${fy1})`)
        .call(d3.axisBottom(x).tickValues(xMinor).tickSize(-8).tickFormat(""))
        .call(thin);
    g.append("g").attr("transform", `translate(0,${fy1})`)
        .call(d3.axisBottom(x).tickValues(xMajor).tickSize(-15).tickPadding(10).tickFormat((d, j) => xLabels[j]))
        .call(thick);

    // plot outline and frame
    g.append("rect").attr("x", px0).attr("y", py0).attr("width", px1 - px0).attr("height", py1 - py0)
        .attr("fill", "none").attr("stroke", "#000").attr("stroke-width", 1.4);
    g.append("rect").attr("x", fx0).attr("y", fy0).attr("width", fx1 - fx0).attr("height", fy1 - fy0)
        .attr("fill", "none").attr("stroke", "#000").attr("stroke-width", 4.2);

    // axis names
    g.append("text").attr("class", "axisname")
        .attr("x", (px0 + px1) / 2).attr("y", fy1 + 65 + 8)
        .attr("text-anchor", "middle").text("x");
    const zNameX = isUp ? fx0 - 47 : fx1 + 65;
    g.append("text").attr("class", "axisname")
        .attr("transform", `translate(${zNameX},${(py0 + py1) / 2}) rotate(-90)`)
        .attr("y", 8).attr("text-anchor", "middle").text("z");

    // Up / Bottom tag
    const [bx0, by0, bx1, by1] = p.box;
    g.append("rect").attr("x", bx0).attr("y", by0).attr("width", bx1 - bx0).attr("height", by1 - by0).attr("fill", "#fff");
    g.append("text").attr("class", "serif")
        .attr("x", (bx0 + bx1) / 2).attr("y", (by0 + by1) / 2 + 14)
        .attr("text-anchor", "middle").attr("font-size", 44).text(p.side);

    if (p.tag) {
        g.append("text").attr("class", "serif")
            .attr("x", p.tagAt[0]).attr("y", p.tagAt[1])
            .attr("font-size", 43).text(p.tag);
    }
}

// ---------------------------------------------------------
// 4. LEGEND AND AXIS GIZMO
// ---------------------------------------------------------
function drawLegend() {
    const g = svg.append("g");
    g.append("rect").attr("x", 3260).attr("y", 433).attr("width", 433).attr("height", 1132)
        .attr("fill", "#fff").attr("stroke", "#000").attr("stroke-width", 2.4);

    const y = d3.scaleLinear().domain([4, -2.5]).range([583.9, 1466.5]);
    const stops = [legendEnds[0]].concat(legendValues, [legendEnds[1]]);
    const bands = d3.pairs(stops);
    g.selectAll(".band").data(bands).join("rect")
        .attr("class", "band")
        .attr("x", 3296).attr("width", 85)
        .attr("y", d => y(d[0])).attr("height", d => y(d[1]) - y(d[0]))
        .attr("fill", d => sColor((d[0] + d[1]) / 2))
        .attr("stroke", "#000").attr("stroke-width", 1);

    g.selectAll(".lab").data(legendLabels).join("text")
        .attr("class", "lab serif")
        .attr("x", (d, i) => legendValues[i] < 0 ? 3389 : 3420)
        .attr("y", (d, i) => y(legendValues[i]) + 29)
        .attr("font-size", 55)
        .text(d => d);

    const title = g.append("text").attr("class", "serif").attr("y", 505).attr("font-size", 48);
    title.append("tspan").attr("x", 3425).attr("font-weight", "bold").attr("font-size", 54).text("S");
    title.append("tspan").attr("x", 3482).attr("letter-spacing", 4).text("(\u00d710");
    title.append("tspan").attr("dy", -20).attr("font-size", 28).text("8");
    title.append("tspan").attr("dy", 20).text(")");
}

function drawGizmo() {
    const g = svg.append("g").attr("stroke", "#000").attr("fill", "none");
    g.append("line").attr("x1", 3432).attr("y1", 91).attr("x2", 3432).attr("y2", 338).attr("stroke-width", 8);
    g.append("line").attr("x1", 3428).attr("y1", 319).attr("x2", 3659).attr("y2", 319).attr("stroke-width", 7);
    g.append("line").attr("x1", 3415).attr("y1", 300).attr("x2", 3432).attr("y2", 318).attr("stroke-width", 3);
    g.append("polyline").attr("points", "3436,252 3498,252 3498,316").attr("stroke-width", 2.5);
    g.append("text").attr("class", "serif").attr("stroke", "none")
        .attr("x", 3476).attr("y", 102).attr("text-anchor", "middle")
        .attr("font-size", 60).attr("font-weight", "bold").text("z");
    g.append("text").attr("class", "serif").attr("stroke", "none")
        .attr("x", 3643).attr("y", 273).attr("text-anchor", "middle")
        .attr("font-size", 60).attr("font-weight", "bold").text("x");
}
</script>
</body>
</html>
